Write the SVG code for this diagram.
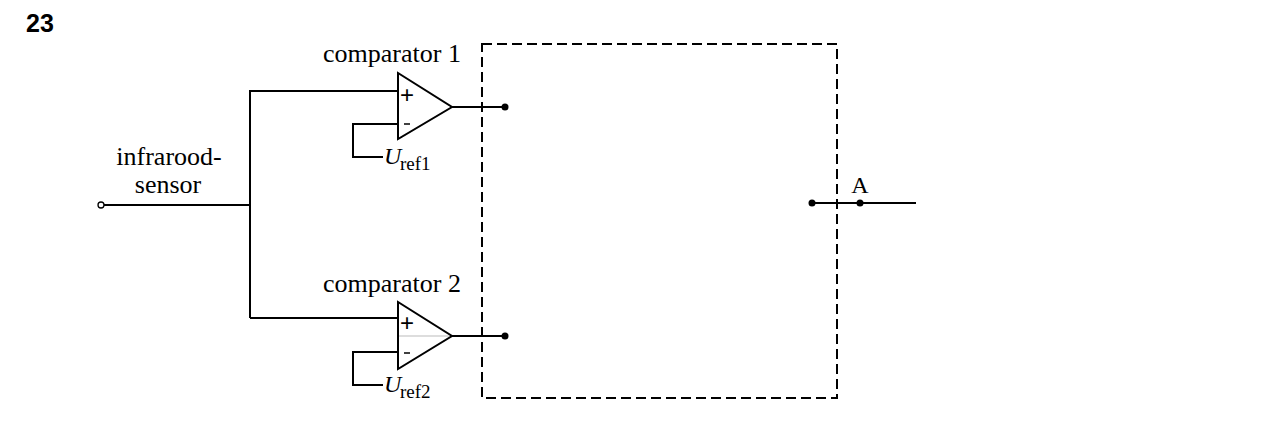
<svg xmlns="http://www.w3.org/2000/svg" width="1272" height="436" viewBox="0 0 1272 436">
<style>
.w{fill:none;stroke:#000;stroke-width:2}
.t{font-family:"Liberation Serif",serif;font-size:26px;fill:#000}
.u{font-family:"Liberation Serif",serif;font-size:24px;font-style:italic;fill:#000}
.s{font-family:"Liberation Serif",serif;font-size:19px;fill:#000}
.sg{font-family:"Liberation Sans",sans-serif;font-size:24px;fill:#000}
.a{font-family:"Liberation Serif",serif;font-size:24px;fill:#000}
.d{fill:#000}
</style>
<rect width="1272" height="436" fill="#fff"/>
<text x="26" y="32" font-family="Liberation Sans, sans-serif" font-size="25" font-weight="bold">23</text>
<g id="box"><rect x="482" y="44" width="355" height="354" fill="none" stroke="#000" stroke-width="2" stroke-dasharray="10,5"/></g>
<g id="connectors">
<line class="w" x1="104" y1="205" x2="250" y2="205"/>
<line class="w" x1="250" y1="90" x2="250" y2="318"/>
<line class="w" x1="250" y1="91" x2="398" y2="91"/>
<line class="w" x1="250" y1="318" x2="398" y2="318"/>
<polyline class="w" points="398,124 353,124 353,157 383,157"/>
<polyline class="w" points="398,352 353,352 353,385 383,385"/>
<line class="w" x1="452" y1="107" x2="505" y2="107"/>
<line class="w" x1="452" y1="336" x2="505" y2="336"/>
<line class="w" x1="812" y1="203" x2="916" y2="203"/>
<circle class="d" cx="505" cy="107" r="3.5"/>
<circle class="d" cx="505" cy="336" r="3.5"/>
<circle class="d" cx="812" cy="203" r="3.5"/>
<circle class="d" cx="860" cy="203" r="3.5"/>
</g>
<g id="sensor">
<circle cx="101" cy="205" r="3" fill="#fff" stroke="#000" stroke-width="1.3"/>
<text class="t" x="169" y="165" text-anchor="middle">infrarood-</text>
<text class="t" x="168" y="193" text-anchor="middle">sensor</text>
</g>
<g id="comparator1">
<text class="t" x="323" y="62">comparator 1</text>
<polygon class="w" points="398,73 398,139 452,107"/>
<text class="sg" x="400" y="103">+</text>
<line x1="404" y1="124" x2="410" y2="124" stroke="#000" stroke-width="1.5"/>
<text class="u" x="384" y="164">U</text><text class="s" x="400" y="170">ref1</text>
</g>
<g id="comparator2">
<text class="t" x="323" y="292">comparator 2</text>
<line x1="398" y1="336" x2="452" y2="336" stroke="#bbb" stroke-width="1"/>
<polygon class="w" points="398,302 398,369 452,336"/>
<text class="sg" x="400" y="331">+</text>
<line x1="404" y1="353" x2="410" y2="353" stroke="#000" stroke-width="1.5"/>
<text class="u" x="384" y="392">U</text><text class="s" x="400" y="398">ref2</text>
</g>
<g id="outputA">
<text class="a" x="860" y="193" text-anchor="middle">A</text>
</g>
</svg>
